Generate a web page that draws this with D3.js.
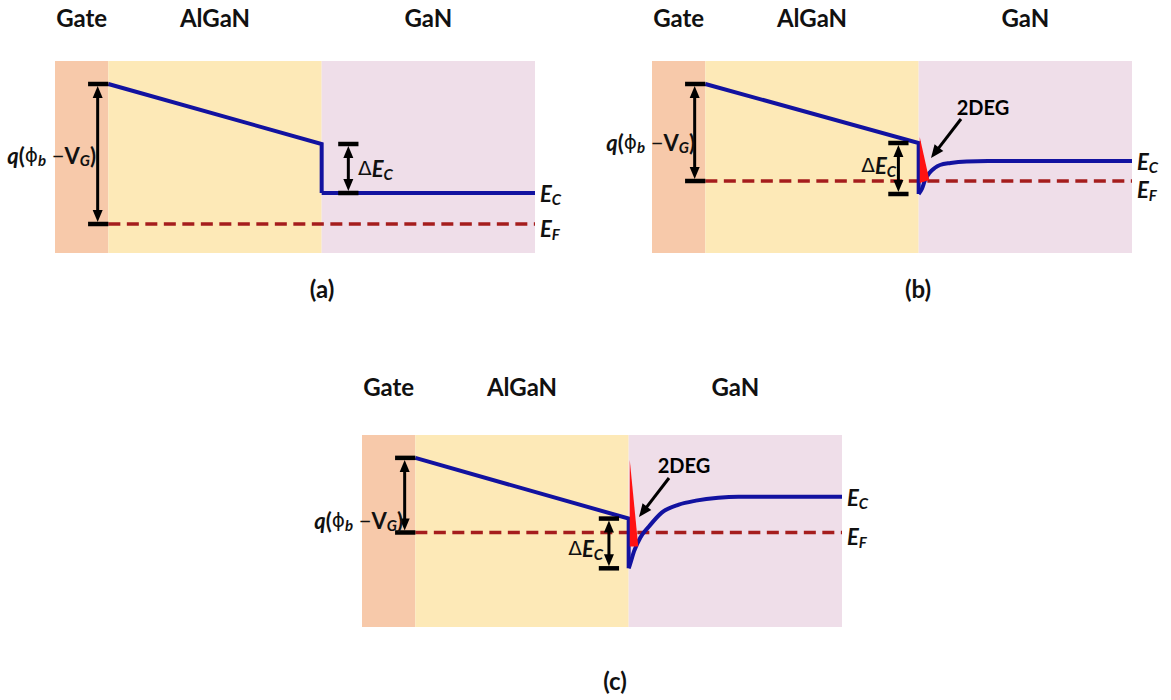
<!DOCTYPE html>
<html><head><meta charset="utf-8">
<script src="https://cdn.jsdelivr.net/npm/d3@7"></script>
<style>body{margin:0;background:#fff}svg{display:block}</style>
</head><body><svg id="c" width="1171" height="700"></svg>
<script>
// ---------- data ----------
const layers = ["Gate", "AlGaN", "GaN"];
const layerBounds = [-5, 0, 20, 40];            // position (nm, schematic)
const panelLabels = ["(a)", "(b)", "(c)"];
const energyWindows = [[-0.29, 1.63], [-0.72, 1.20], [-0.95, 0.98]]; // eV, EF = 0

// conduction band in the barrier (linear) per panel
const ecBarrierA = [[0, 1.40], [20, 0.80], [20, 0.31]];
const ecBarrierB = [[0, 0.97], [20, 0.38], [20, -0.13]];
const ecBarrierC = [[0, 0.75], [20, 0.14], [20, -0.36]];
// conduction band in GaN per panel
const ecGaNA = [[20, 0.31], [40, 0.31]];
const ecGaNB = [[20, -0.13], [20.3, -0.08], [20.6, 0.01], [21.0, 0.08], [21.5, 0.13], [22.0, 0.16], [23.0, 0.18], [24.5, 0.195], [26.5, 0.20], [40, 0.20]];
const ecGaNC = [[20, -0.36], [20.1, -0.33], [20.5, -0.19], [21.1, -0.05], [21.9, 0.06], [23.1, 0.20], [24.7, 0.28], [26.3, 0.32], [28.4, 0.35], [30.3, 0.36], [40, 0.36]];
// 2DEG wedge
const twoDegB = [[20.1, 0.44], [20.1, -0.02], [21.0, 0.01]];
const twoDegC = [[20.1, 0.73], [20.1, -0.14], [20.9, -0.14]];
// Fermi level
const efLevel = 0;

// ---------- layout ----------
const W = 480, H = 192;
const panels = [
  {x0: 55,  top: 61,  titleY: 27,  label: [322, 288], qLab: [96, 155], dLab: [358, 168, "start"], dX: 22.5, efOff: 4, ecB: ecBarrierA, ecG: ecGaNA, deg: null, degArrow: null},
  {x0: 652, top: 61,  titleY: 27,  label: [918, 288], qLab: [695, 142], dLab: [896, 165, "end"],   dX: 18.1, efOff: 8, ecB: ecBarrierB, ecG: ecGaNB, deg: twoDegB, degArrow: [[961, 119], [931, 158]], degText: [983, 107]},
  {x0: 362, top: 435, titleY: 396, label: [615, 680], qLab: [403, 520], dLab: [603, 548, "end"],   dX: 18.15, efOff: 4, ecB: ecBarrierC, ecG: ecGaNC, deg: twoDegC, degArrow: [[669, 478], [639, 517]], degText: [684, 465]}
];
const colors = {layers: ["#f7c9aa", "#fde9b7", "#efdee9"], ec: "#1212a0", ef: "#a51d1d", deg: "#ff1212", ink: "#000"};
const FONT = "Lato, 'Open Sans', sans-serif";

const svg = d3.select("#c");

function arrowHead(g, x, y, dir, len, wid) {
  const [dx, dy] = dir, px = -dy, py = dx;
  const bx = x - dx * len, by = y - dy * len;
  g.append("path").attr("d", `M${x},${y}L${bx + px * wid / 2},${by + py * wid / 2}L${bx - px * wid / 2},${by - py * wid / 2}Z`).attr("fill", colors.ink);
}
function vArrow(g, x, y1, y2, capL, capR) {
  g.append("line").attr("x1", capL).attr("x2", capR).attr("y1", y1).attr("y2", y1).attr("stroke", colors.ink).attr("stroke-width", 4.5);
  g.append("line").attr("x1", capL).attr("x2", capR).attr("y1", y2).attr("y2", y2).attr("stroke", colors.ink).attr("stroke-width", 4.5);
  g.append("line").attr("x1", x).attr("x2", x).attr("y1", y1 + 10).attr("y2", y2 - 10).attr("stroke", colors.ink).attr("stroke-width", 3);
  arrowHead(g, x, y1 + 2, [0, -1], 12, 10);
  arrowHead(g, x, y2 - 2, [0, 1], 12, 10);
}

panels.forEach((p, i) => {
  const x = d3.scaleLinear().domain([layerBounds[0], layerBounds[3]]).range([p.x0, p.x0 + W]);
  const y = d3.scaleLinear().domain(energyWindows[i]).range([p.top + H, p.top]);
  const g = svg.append("g");

  layers.forEach((name, k) => {
    g.append("rect").attr("x", x(layerBounds[k])).attr("y", p.top)
      .attr("width", x(layerBounds[k + 1]) - x(layerBounds[k])).attr("height", H)
      .attr("fill", colors.layers[k]);
    g.append("text").attr("x", x((layerBounds[k] + layerBounds[k + 1]) / 2)).attr("y", p.titleY)
      .attr("text-anchor", "middle").attr("font-family", FONT).attr("font-weight", 700)
      .attr("font-size", 24).attr("fill", "#111").text(name);
  });

  g.append("line").attr("x1", x(layerBounds[1])).attr("x2", x(layerBounds[3]))
    .attr("y1", y(efLevel)).attr("y2", y(efLevel))
    .attr("stroke", colors.ef).attr("stroke-width", 3.6).attr("stroke-dasharray", "12,6.5");

  const lin = d3.line().x(d => x(d[0])).y(d => y(d[1]));
  const mono = d3.line().x(d => x(d[0])).y(d => y(d[1])).curve(d3.curveMonotoneX);
  g.append("path").attr("d", lin(p.ecB)).attr("fill", "none").attr("stroke", colors.ec).attr("stroke-width", 4).attr("stroke-linejoin", "miter");
  g.append("path").attr("d", mono(p.ecG)).attr("fill", "none").attr("stroke", colors.ec).attr("stroke-width", 4);

  if (p.deg) {
    g.append("path").attr("d", lin(p.deg) + "Z").attr("fill", colors.deg);
    const [[ax, ay], [bx, by]] = p.degArrow;
    const L = Math.hypot(bx - ax, by - ay), ux = (bx - ax) / L, uy = (by - ay) / L;
    g.append("line").attr("x1", ax).attr("y1", ay).attr("x2", bx - ux * 9).attr("y2", by - uy * 9)
      .attr("stroke", colors.ink).attr("stroke-width", 3);
    arrowHead(g, bx, by, [ux, uy], 13, 11);
    g.append("text").attr("x", p.degText[0]).attr("y", p.degText[1]).attr("dominant-baseline", "central")
      .attr("text-anchor", "middle").attr("font-family", FONT).attr("font-weight", 700).attr("font-size", 20).text("2DEG");
  }

  const eTop = p.ecB[0][1];
  vArrow(g, x(-1), y(eTop), y(efLevel), x(-1.9), x(0));
  const qt = g.append("text").attr("x", p.qLab[0]).attr("y", p.qLab[1]).attr("dominant-baseline", "central")
    .attr("text-anchor", "end").attr("font-family", FONT).attr("font-size", 22).attr("font-weight", 700).attr("fill", "#111");
  qt.append("tspan").attr("font-style", "italic").text("q");
  qt.append("tspan").text("(");
  qt.append("tspan").attr("font-weight", 400).attr("font-family", "'DejaVu Sans'").attr("font-size", 20).text("ϕ");
  qt.append("tspan").attr("font-style", "italic").attr("font-size", 15).attr("dy", 5).text("b");
  qt.append("tspan").attr("dy", -5).attr("font-weight", 400).text(" −");
  qt.append("tspan").text("V");
  qt.append("tspan").attr("font-style", "italic").attr("font-size", 15).attr("dy", 5).text("G");
  qt.append("tspan").attr("dy", -5).text(")");

  const eHi = p.ecB[1][1], eLo = p.ecB[2][1];
  vArrow(g, x(p.dX), y(eHi), y(eLo), x(p.dX - 0.95), x(p.dX + 0.95));
  const dt = g.append("text").attr("x", p.dLab[0]).attr("y", p.dLab[1]).attr("dominant-baseline", "central")
    .attr("text-anchor", p.dLab[2]).attr("font-family", FONT).attr("font-size", 22).attr("fill", "#111");
  dt.append("tspan").attr("font-family", "'DejaVu Sans'").attr("font-size", 20).text("Δ");
  dt.append("tspan").attr("font-style", "italic").attr("font-weight", 700).text("E");
  dt.append("tspan").attr("font-style", "italic").attr("font-weight", 700).attr("font-size", 15).attr("dy", 6).text("C");

  const ecEnd = p.ecG[p.ecG.length - 1][1];
  [[ecEnd, "C", 0], [efLevel, "F", p.efOff]].forEach(([e, sub, off]) => {
    const t = g.append("text").attr("x", x(40) + 5).attr("y", y(e) + off).attr("dominant-baseline", "central")
      .attr("font-family", FONT).attr("font-size", 22).attr("font-weight", 700).attr("font-style", "italic").attr("fill", "#111");
    t.append("tspan").text("E");
    t.append("tspan").attr("font-size", 15).attr("dy", 6).text(sub);
  });

  svg.append("text").attr("x", p.label[0]).attr("y", p.label[1]).attr("dominant-baseline", "central")
    .attr("text-anchor", "middle").attr("font-family", FONT).attr("font-weight", 700).attr("font-size", 24)
    .attr("fill", "#111").text(panelLabels[i]);
});
</script></body></html>
